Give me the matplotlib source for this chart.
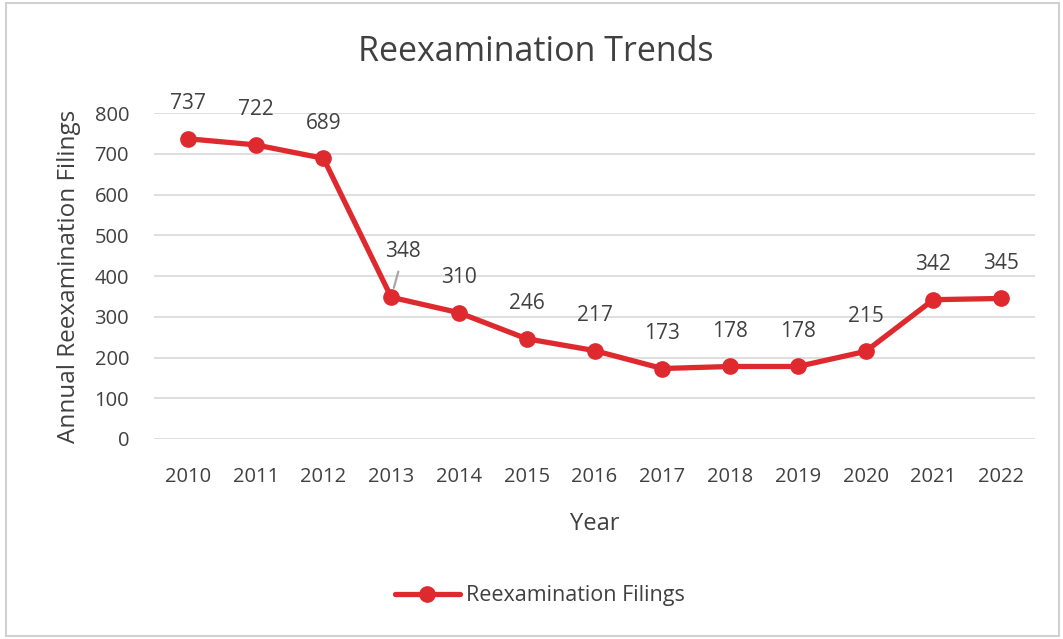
import matplotlib.pyplot as plt
from matplotlib.patches import Rectangle

# data
years = ['2010', '2011', '2012', '2013', '2014', '2015', '2016',
         '2017', '2018', '2019', '2020', '2021', '2022']
filings = [737, 722, 689, 348, 310, 246, 217, 173, 178, 178, 215, 342, 345]
yticks = [0, 100, 200, 300, 400, 500, 600, 700, 800]

red = '#de2a2f'
txt = '#404040'
plt.rcParams['font.family'] = ['Open Sans', 'DejaVu Sans']

fig = plt.figure(figsize=(10.63, 6.39), dpi=100)
ax = fig.add_axes([0.1449, 0.313, 0.8288, 0.510])

x = list(range(len(years)))
ax.plot(x, filings, color=red, lw=3.8, marker='o', ms=11,
        label='Reexamination Filings', solid_capstyle='round', zorder=3)

# data labels
for i, v in enumerate(filings):
    if i == 3:
        # label moved off the line, with a leader line
        ax.annotate(str(v), xy=(i, v), xytext=(i + 0.17, v + 112), ha='center', va='center',
                    fontsize=15, color=txt, zorder=5,
                    arrowprops=dict(arrowstyle='-', color='#a6a6a6', lw=1.6,
                                    relpos=(0.45, 0.0), shrinkA=5, shrinkB=7))
    else:
        ax.text(i, v + 86, str(v), ha='center', va='center', fontsize=15, color=txt,
                zorder=5)

ax.set_xlim(-0.5, len(years) - 0.5)
ax.set_ylim(0, 800)
ax.set_yticks(yticks)
ax.set_xticks(x)
ax.set_xticklabels(years)
ax.tick_params(length=0, labelsize=14.5, labelcolor=txt, pad=20)
ax.tick_params(axis='y', pad=18)
ax.grid(axis='y', color='#d9d9d9', lw=1.2)
ax.set_axisbelow(True)
for s in ax.spines.values():
    s.set_visible(False)

ax.set_xlabel('Year', fontsize=17, color=txt, labelpad=18)
ax.set_ylabel('Annual Reexamination Filings', fontsize=17.5, color=txt, labelpad=10)
fig.text(0.504, 0.918, 'Reexamination Trends', ha='center', va='center',
         fontsize=24.5, color=txt)

leg = fig.legend(loc='center', bbox_to_anchor=(0.508, 0.068), frameon=False,
                 fontsize=15.5, handlelength=3.0, handletextpad=0.3)
for t in leg.get_texts():
    t.set_color(txt)

# chart border
fig.patches.append(Rectangle((0.006, 0.005), 0.99, 0.99, transform=fig.transFigure,
                             fill=False, edgecolor='#d0d0d0', lw=1.5))

fig.savefig('out.png', dpi=100)
